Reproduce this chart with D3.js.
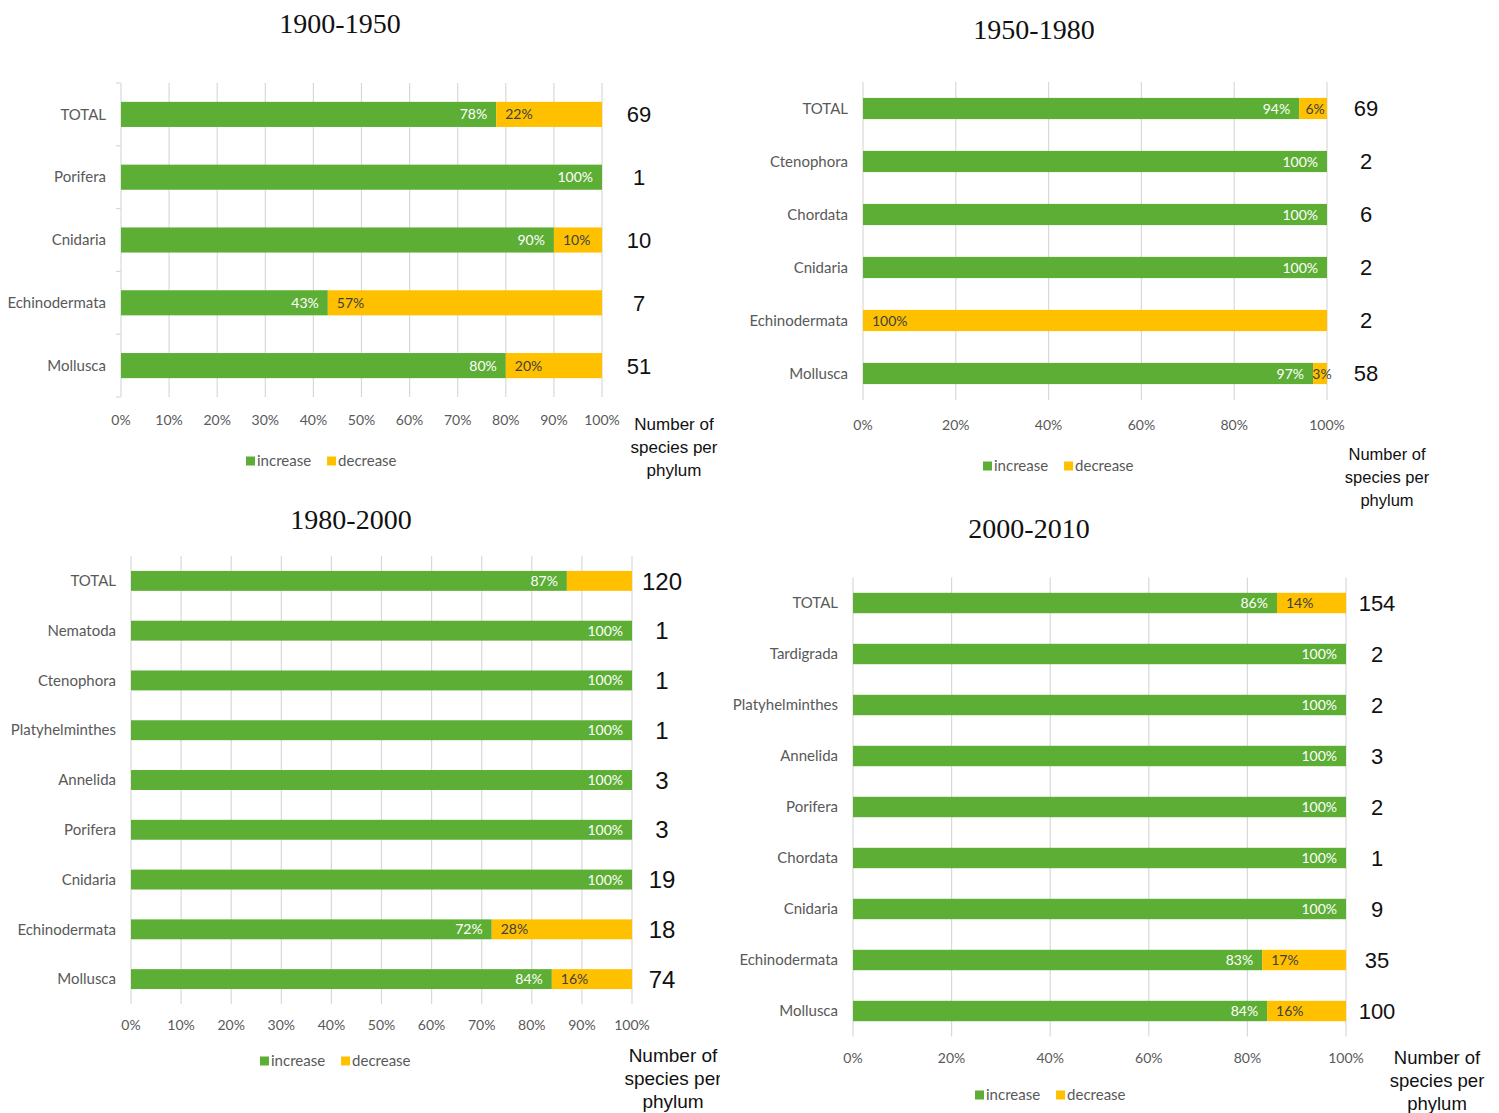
<!DOCTYPE html>
<html>
<head>
<meta charset="utf-8">
<script src="https://cdn.jsdelivr.net/npm/d3@7"></script>
<style>
  body { margin: 0; background: #fff; }
  svg { display: block; }
  .cat { font-family: Lato, sans-serif; font-size: 15px; fill: #595959; }
  .tick-lbl { font-family: Lato, sans-serif; font-size: 14px; fill: #595959; }
  .dl { font-family: Lato, sans-serif; font-size: 14px; }
  .cnt { font-family: "Liberation Sans", Arial, sans-serif; fill: #111; }
  .note { font-family: "Liberation Sans", Arial, sans-serif; fill: #111; }
  .ttl { font-family: "Liberation Serif", "Times New Roman", serif; font-size: 28px; fill: #111; }
  .leg { font-family: Lato, sans-serif; font-size: 15px; fill: #595959; }
</style>
</head>
<body>
<svg id="chart" width="1499" height="1113"></svg>
<script>
// 1900-1950
var cats1900 = ["TOTAL", "Porifera", "Cnidaria", "Echinodermata", "Mollusca"];
var inc1900 = [78, 100, 90, 43, 80];
var dec1900 = [22, 0, 10, 57, 20];
var n1900 = [69, 1, 10, 7, 51];

// 1950-1980
var cats1950 = ["TOTAL", "Ctenophora", "Chordata", "Cnidaria", "Echinodermata", "Mollusca"];
var inc1950 = [94, 100, 100, 100, 0, 97];
var dec1950 = [6, 0, 0, 0, 100, 3];
var n1950 = [69, 2, 6, 2, 2, 58];

// 1980-2000
var cats1980 = ["TOTAL", "Nematoda", "Ctenophora", "Platyhelminthes", "Annelida", "Porifera", "Cnidaria", "Echinodermata", "Mollusca"];
var inc1980 = [87, 100, 100, 100, 100, 100, 100, 72, 84];
var dec1980 = [13, 0, 0, 0, 0, 0, 0, 28, 16];
var n1980 = [120, 1, 1, 1, 3, 3, 19, 18, 74];
var hiddenDec1980 = ["TOTAL"];

// 2000-2010
var cats2000 = ["TOTAL", "Tardigrada", "Platyhelminthes", "Annelida", "Porifera", "Chordata", "Cnidaria", "Echinodermata", "Mollusca"];
var inc2000 = [86, 100, 100, 100, 100, 100, 100, 83, 84];
var dec2000 = [14, 0, 0, 0, 0, 0, 0, 17, 16];
var n2000 = [154, 2, 2, 3, 2, 1, 9, 35, 100];

var seriesNames = ["increase", "decrease"];
var noteLines = ["Number of", "species per", "phylum"];
var colors = { increase: "#5DAE35", decrease: "#FFC000" };

var svg = d3.select("#chart");

function drawPanel(p) {
  var g = svg.append("g");
  if (p.clip) {
    var id = "clip" + p.title.replace(/\W/g, "");
    svg.append("clipPath").attr("id", id)
      .append("rect").attr("x", 0).attr("y", 0).attr("width", p.clip).attr("height", 1113);
    g.attr("clip-path", "url(#" + id + ")");
  }

  var x = d3.scaleLinear().domain([0, 100]).range([p.x0, p.x1]);
  var y = d3.scaleBand().domain(p.cats).range([p.yTop, p.yBot]).paddingInner(p.pad).paddingOuter(p.pad / 2);

  g.append("text").attr("class", "ttl")
    .attr("x", p.titleX).attr("y", p.titleY).attr("text-anchor", "middle")
    .text(p.title);

  var ticks = d3.range(0, 101, p.step);
  g.append("g").selectAll("line").data(ticks).enter().append("line")
    .attr("x1", function(d) { return x(d); })
    .attr("x2", function(d) { return x(d); })
    .attr("y1", p.yTop).attr("y2", p.yBot)
    .attr("stroke", "#D9D9D9").attr("stroke-width", 1.2);

  g.append("g").selectAll("text").data(ticks).enter().append("text")
    .attr("class", "tick-lbl")
    .attr("x", function(d) { return x(d); })
    .attr("y", p.tickY).attr("dy", "0.35em").attr("text-anchor", "middle")
    .text(function(d) { return d + "%"; });

  if (p.leftAxis) {
    var bounds = p.cats.map(function(c) { return y(c) - y.step() * y.paddingInner() / 2; });
    bounds.push(p.yBot);
    g.append("g").selectAll("line").data(bounds).enter().append("line")
      .attr("x1", p.x0 - 5).attr("x2", p.x0)
      .attr("y1", function(d) { return d; }).attr("y2", function(d) { return d; })
      .attr("stroke", "#D9D9D9").attr("stroke-width", 1.2);
  }

  var rows = p.cats.map(function(c, i) {
    return { cat: c, increase: p.inc[i], decrease: p.dec[i], n: p.n[i] };
  });
  var stack = d3.stack().keys(seriesNames)(rows);

  var layer = g.append("g").selectAll("g").data(stack).enter().append("g")
    .attr("fill", function(d) { return colors[d.key]; });
  layer.selectAll("rect").data(function(d) { return d; })
    .enter().append("rect")
    .attr("x", function(d) { return x(d[0]); })
    .attr("width", function(d) { return x(d[1]) - x(d[0]); })
    .attr("y", function(d) { return y(d.data.cat); })
    .attr("height", y.bandwidth());

  // data labels
  stack.forEach(function(s) {
    s.forEach(function(d) {
      var v = d.data[s.key];
      if (!v) return;
      if (s.key === "decrease" && p.hidden && p.hidden.indexOf(d.data.cat) >= 0) return;
      var xs = x(d[0]), xe = x(d[1]), w = xe - xs;
      var t = g.append("text").attr("class", "dl")
        .attr("y", y(d.data.cat) + y.bandwidth() / 2).attr("dy", "0.36em")
        .text(v + "%");
      if (s.key === "increase") {
        t.attr("x", xe - 9).attr("text-anchor", "end").attr("fill", "#fff");
      } else if (w < 40) {
        t.attr("x", xs + w / 2 + 2).attr("text-anchor", "middle").attr("fill", "#404040");
      } else {
        t.attr("x", xs + 9).attr("text-anchor", "start").attr("fill", "#404040");
      }
    });
  });

  g.append("g").selectAll("text").data(p.cats).enter().append("text")
    .attr("class", "cat")
    .attr("x", p.x0 - 15).attr("y", function(d) { return y(d) + y.bandwidth() / 2; })
    .attr("dy", "0.35em").attr("text-anchor", "end")
    .text(function(d) { return d; });

  g.append("g").selectAll("text").data(rows).enter().append("text")
    .attr("class", "cnt").style("font-size", p.cntSize + "px")
    .attr("x", p.cntX).attr("y", function(d) { return y(d.cat) + y.bandwidth() / 2; })
    .attr("dy", "0.36em").attr("text-anchor", "middle")
    .text(function(d) { return d.n; });

  var note = g.append("text").attr("class", "note").style("font-size", p.noteSize + "px")
    .attr("text-anchor", "middle");
  noteLines.forEach(function(line, i) {
    note.append("tspan").attr("x", p.noteX).attr("y", p.noteY + i * 23).text(line);
  });

  var leg = g.append("g").attr("transform", "translate(" + p.legX + "," + p.legY + ")");
  var lx = 0;
  seriesNames.forEach(function(name) {
    leg.append("rect").attr("x", lx).attr("y", -4.5).attr("width", 9).attr("height", 9).attr("fill", colors[name]);
    var t = leg.append("text").attr("class", "leg").attr("x", lx + 11).attr("dy", "0.35em").text(name);
    lx += 11 + t.node().getComputedTextLength() + 16;
  });
}

drawPanel({ title: "1900-1950", titleX: 340, titleY: 33, cats: cats1900, inc: inc1900, dec: dec1900, n: n1900,
  x0: 121, x1: 602, yTop: 83, yBot: 397, pad: 0.6, step: 10, tickY: 420, leftAxis: true,
  cntX: 639, cntSize: 22, noteX: 674, noteY: 430, noteSize: 17, legX: 246, legY: 461 });

drawPanel({ title: "1950-1980", titleX: 1034, titleY: 39, cats: cats1950, inc: inc1950, dec: dec1950, n: n1950,
  x0: 863, x1: 1327, yTop: 82, yBot: 400, pad: 0.6, step: 20, tickY: 425,
  cntX: 1366, cntSize: 22, noteX: 1387, noteY: 460, noteSize: 16.5, legX: 983, legY: 466 });

drawPanel({ title: "1980-2000", titleX: 351, titleY: 529, cats: cats1980, inc: inc1980, dec: dec1980, n: n1980,
  hidden: hiddenDec1980, clip: 720,
  x0: 131, x1: 632, yTop: 556, yBot: 1004, pad: 0.6, step: 10, tickY: 1025,
  cntX: 662, cntSize: 24, noteX: 673, noteY: 1062, noteSize: 19, legX: 260, legY: 1061 });

drawPanel({ title: "2000-2010", titleX: 1029, titleY: 538, cats: cats2000, inc: inc2000, dec: dec2000, n: n2000,
  x0: 853, x1: 1346, yTop: 577.5, yBot: 1036.5, pad: 0.6, step: 20, tickY: 1058,
  cntX: 1377, cntSize: 22, noteX: 1437, noteY: 1064, noteSize: 18.5, legX: 975, legY: 1095 });
</script>
</body>
</html>
